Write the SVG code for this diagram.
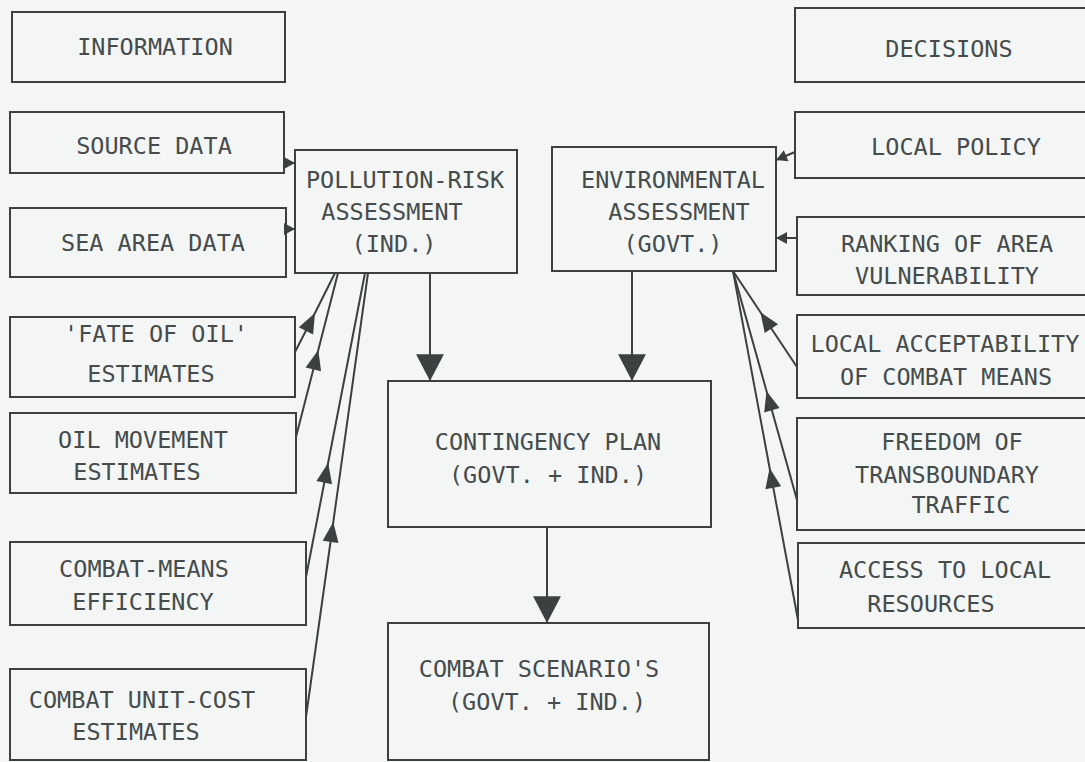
<svg xmlns="http://www.w3.org/2000/svg" width="1085" height="762" viewBox="0 0 1085 762">
<style>
.b{fill:none;stroke:#3b4141;stroke-width:2}
.t{font-family:"DejaVu Sans Mono","Liberation Mono",monospace;font-size:23.5px;fill:#464c4c;text-anchor:middle}
.c{fill:none;stroke:#3b4141;stroke-width:2}
</style>
<defs>
<marker id="big" markerUnits="userSpaceOnUse" markerWidth="30" markerHeight="30" viewBox="-26 -14 28 28" refX="0" refY="0" orient="auto"><path d="M0,0 L-25,-13 L-25,13 Z" fill="#3b4141"/></marker>
<marker id="mid" markerUnits="userSpaceOnUse" markerWidth="24" markerHeight="24" viewBox="-22 -11 24 22" refX="0" refY="0" orient="auto"><path d="M0,0 L-20,-8 L-20,8 Z" fill="#3b4141"/></marker>
<marker id="sm" markerUnits="userSpaceOnUse" markerWidth="14" markerHeight="14" viewBox="-12 -7 14 14" refX="0" refY="0" orient="auto"><path d="M0,0 L-11,-6 L-11,6 Z" fill="#3b4141"/></marker>
</defs>
<rect width="1085" height="762" fill="#f3f6f5"/>
<g id="information"><rect class="b" x="12" y="12" width="273" height="70"/><text class="t" x="155" y="55">INFORMATION</text></g>
<g id="source-data"><rect class="b" x="10" y="112" width="274" height="61"/><text class="t" x="154" y="154">SOURCE DATA</text></g>
<g id="sea-area-data"><rect class="b" x="10" y="208" width="276" height="69"/><text class="t" x="153" y="251">SEA AREA DATA</text></g>
<g id="fate-of-oil"><rect class="b" x="10" y="317" width="285" height="80"/><text class="t" x="156" y="342">'FATE OF OIL'</text><text class="t" x="151" y="382">ESTIMATES</text></g>
<g id="oil-movement"><rect class="b" x="10" y="413" width="286" height="80"/><text class="t" x="143" y="448">OIL MOVEMENT</text><text class="t" x="137" y="480">ESTIMATES</text></g>
<g id="combat-means"><rect class="b" x="10" y="542" width="296" height="83"/><text class="t" x="144" y="577">COMBAT-MEANS</text><text class="t" x="143" y="610">EFFICIENCY</text></g>
<g id="combat-unit-cost"><rect class="b" x="10" y="669" width="296" height="91"/><text class="t" x="142" y="708">COMBAT UNIT-COST</text><text class="t" x="136" y="740">ESTIMATES</text></g>
<g id="pollution-risk"><rect class="b" x="295" y="150" width="222" height="123"/><text class="t" x="405" y="188">POLLUTION-RISK</text><text class="t" x="392" y="220">ASSESSMENT</text><text class="t" x="394" y="252">(IND.)</text></g>
<g id="environmental"><rect class="b" x="552" y="147" width="224" height="124"/><text class="t" x="673" y="188">ENVIRONMENTAL</text><text class="t" x="679" y="220">ASSESSMENT</text><text class="t" x="673" y="252">(GOVT.)</text></g>
<g id="decisions"><rect class="b" x="795" y="8" width="295" height="74"/><text class="t" x="949" y="57">DECISIONS</text></g>
<g id="local-policy"><rect class="b" x="795" y="112" width="295" height="66"/><text class="t" x="956" y="155">LOCAL POLICY</text></g>
<g id="ranking"><rect class="b" x="797" y="217" width="293" height="78"/><text class="t" x="947" y="252">RANKING OF AREA</text><text class="t" x="947" y="284">VULNERABILITY</text></g>
<g id="local-acceptability"><rect class="b" x="797" y="315" width="293" height="83"/><text class="t" x="945" y="352">LOCAL ACCEPTABILITY</text><text class="t" x="946" y="385">OF COMBAT MEANS</text></g>
<g id="freedom"><rect class="b" x="797" y="418" width="293" height="112"/><text class="t" x="952" y="450">FREEDOM OF</text><text class="t" x="947" y="483">TRANSBOUNDARY</text><text class="t" x="961" y="513">TRAFFIC</text></g>
<g id="access"><rect class="b" x="798" y="543" width="292" height="85"/><text class="t" x="945" y="578">ACCESS TO LOCAL</text><text class="t" x="931" y="612">RESOURCES</text></g>
<g id="contingency-plan"><rect class="b" x="388" y="381" width="323" height="146"/><text class="t" x="548" y="450">CONTINGENCY PLAN</text><text class="t" x="548" y="483">(GOVT. + IND.)</text></g>
<g id="combat-scenarios"><rect class="b" x="388" y="623" width="321" height="137"/><text class="t" x="539" y="677">COMBAT SCENARIO'S</text><text class="t" x="547" y="710">(GOVT. + IND.)</text></g>
<g id="connectors">
<line class="c" x1="430" y1="273" x2="430" y2="381" marker-end="url(#big)"/>
<line class="c" x1="632" y1="271" x2="632" y2="381" marker-end="url(#big)"/>
<line class="c" x1="547" y1="527" x2="547" y2="623" marker-end="url(#big)"/>
<line class="c" x1="284" y1="163" x2="295" y2="163" marker-end="url(#sm)"/>
<line class="c" x1="286" y1="229" x2="295" y2="229" marker-end="url(#sm)"/>
<line class="c" x1="795" y1="152" x2="776" y2="160" marker-end="url(#sm)"/>
<line class="c" x1="797" y1="238" x2="776" y2="238" marker-end="url(#sm)"/>
<path class="c" d="M295,352 L315,313 L335,273" marker-mid="url(#mid)"/>
<path class="c" d="M296,437 L318.3,350 L338,273" marker-mid="url(#mid)"/>
<path class="c" d="M306,577 L328.1,463 L365,273" marker-mid="url(#mid)"/>
<path class="c" d="M306,717 L333.3,522 L368,273" marker-mid="url(#mid)"/>
<path class="c" d="M797,367 L760.3,312 L733,271" marker-mid="url(#mid)"/>
<path class="c" d="M797,500 L766.5,391 L733,271" marker-mid="url(#mid)"/>
<path class="c" d="M798,620 L769.6,468 L733,271" marker-mid="url(#mid)"/>
</g>
</svg>
